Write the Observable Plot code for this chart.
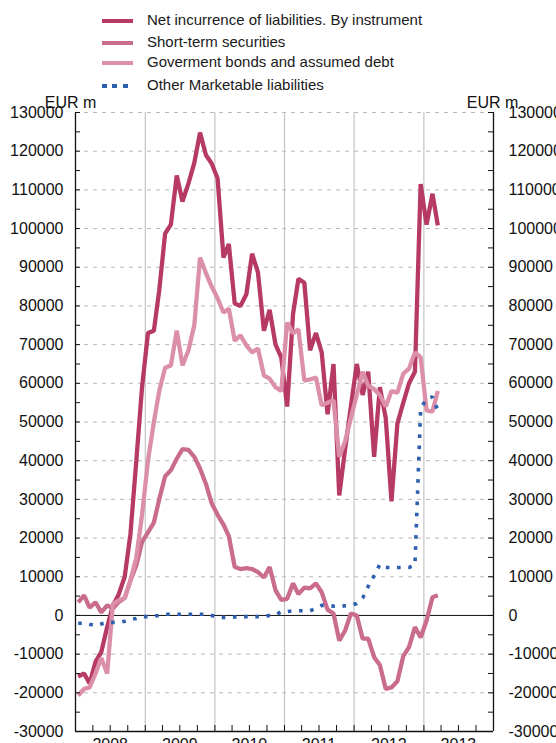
<!DOCTYPE html>
<html><head><meta charset="utf-8">
<script src="https://cdn.jsdelivr.net/npm/d3@7"></script>
<script src="https://cdn.jsdelivr.net/npm/@observablehq/plot@0.6"></script>
<style>
body{margin:0;background:#fff;font-family:"Liberation Sans",Arial,sans-serif;}
#legend{position:absolute;left:0;top:0;width:556px;height:96px;z-index:2;}
.sw{position:absolute;left:102px;width:31px;height:0;}
.lab{position:absolute;left:147px;font-size:15px;line-height:20px;color:#1a1a1a;white-space:nowrap;}
#chart{position:absolute;left:0;top:90px;}
</style></head><body>
<div id="legend"></div>
<div id="chart"></div>
<script>
// Series names and colours (legend order)
const seriesNames = [
  "Net incurrence of liabilities. By instrument",
  "Short-term securities",
  "Goverment bonds and assumed debt",
  "Other Marketable liabilities"
];
const seriesColors = ["#b63a65", "#c96c8d", "#dc8fab", "#2c5fad"];

// Monthly observations, Jan 2008 .. Mar 2013 (EUR m)
const startYear = 2008, startMonth = 0;
const netIncurrence = [-15800,-15000,-17600,-12000,-9500,-3000,2500,5500,10000,21000,40000,59000,
  73000,73600,84000,98700,101000,113700,107000,111600,117000,124800,119000,116800,
  113000,92500,96000,80600,80000,83000,93500,88600,73600,79000,70000,66700,
  54000,78000,87000,86000,68500,73000,68000,52000,65000,31000,43000,54000,
  65000,57000,63000,41000,59000,51000,29500,49600,55000,60000,63000,111500,
  101000,109000,100800];
const shortTerm = [3400,5200,2000,3400,800,2600,1800,3500,4500,9000,13000,19000,
  21500,24000,30000,36000,37500,40500,43000,42800,41000,38000,34000,29000,
  26000,23500,20500,12500,12000,12200,12000,11200,9800,12500,6500,4000,
  4300,8300,5500,7200,7000,8300,6000,1500,500,-6500,-3900,500,
  0,-6000,-6000,-10800,-12800,-19000,-18600,-17000,-10500,-8200,-3000,-5700,
  -1300,4700,5200];
const govBonds = [-20700,-19000,-18600,-15000,-11000,-15000,3000,3900,4500,9000,15000,26000,
  40000,50000,58000,64000,64600,73600,64600,68500,75000,92500,88500,85000,
  82000,78300,79300,71000,72400,69800,68000,69000,62000,61200,59000,58000,
  75700,72900,74000,60700,61000,61500,54300,55000,55600,41000,45000,51000,
  57000,63000,59400,58500,57000,54000,58000,57600,62500,63800,68000,66700,
  53000,52700,58000];
const otherMarketable = [-2000,-2000,-2300,-2600,-2200,-1800,-1800,-1800,-1500,-1000,-800,-300,
  -300,-200,0,300,300,300,300,300,300,300,300,0,
  -500,-500,-500,-400,-300,-300,-300,-300,-200,0,100,1000,
  1000,1200,1200,1200,1200,1800,2600,2600,2400,2300,2500,2600,
  3100,4500,7500,10300,13200,12400,12400,12400,12400,12400,13000,53500,
  56000,56500,53000];

// Axis tick values
const yLabelTicks = d3.range(-30000, 130001, 10000);
const yMinorTicks = d3.range(-30000, 130001, 5000);
const gridValues = d3.range(-20000, 130001, 10000).filter(v => v !== 0);
const yearLabels = [2008, 2009, 2010, 2011, 2012, 2013];

const allSeries = [netIncurrence, shortTerm, govBonds, otherMarketable];
const rows = [];
allSeries.forEach((vals, s) => vals.forEach((v, i) => rows.push({
  date: new Date(Date.UTC(startYear, startMonth + i, 15)), value: v, series: seriesNames[s]
})));

const xStart = new Date(Date.UTC(2008, 0, 1)), xEnd = new Date(Date.UTC(2014, 0, 1));
const yearStarts = yearLabels.slice(1).map(y => new Date(Date.UTC(y, 0, 1)));
const midYears = yearLabels.map(y => new Date(Date.UTC(y, 6, 1)));
const quarters = d3.utcMonth.every(3).range(xStart, xEnd).slice(1);

// legend
const legend = document.getElementById("legend");
const swY = [20.5, 42.5, 63, 85.5];
seriesNames.forEach((name, i) => {
  const sw = document.createElement("div");
  sw.className = "sw";
  sw.style.top = (swY[i] - 2) + "px";
  sw.style.height = "4px";
  sw.style.background = i === 3
    ? `repeating-linear-gradient(90deg, ${seriesColors[i]} 0 5px, transparent 5px 10.5px)`
    : seriesColors[i];
  legend.appendChild(sw);
  const lb = document.createElement("div");
  lb.className = "lab";
  lb.style.top = (swY[i] - 11) + "px";
  lb.textContent = name;
  legend.appendChild(lb);
});

const lineMarks = seriesNames.map((name, i) => Plot.line(rows.filter(r => r.series === name), {
  x: "date", y: "value", stroke: seriesColors[i],
  strokeWidth: i === 3 ? 3.6 : 4.3,
  strokeDasharray: i === 3 ? "3.6,7.6" : null,
  strokeLinejoin: "miter", strokeLinecap: "butt"
}));

const chart = Plot.plot({
  width: 556, height: 665,
  marginLeft: 75, marginRight: 63, marginTop: 22, marginBottom: 24,
  style: {fontFamily: "Liberation Sans, Arial, sans-serif", fontSize: "16px", background: "transparent", color: "#111"},
  x: {type: "utc", domain: [xStart, xEnd]},
  y: {domain: [-30000, 130000]},
  marks: [
    Plot.ruleY(gridValues, {stroke: "#b8b8b8", strokeDasharray: "4,5"}),
    Plot.ruleX(yearStarts, {stroke: "#c4c4c4", strokeWidth: 1.2}),
    Plot.ruleY([0], {stroke: "#111"}),
    ...lineMarks,
    Plot.ruleX([xStart, xEnd], {stroke: "#111", strokeWidth: 1.3}),
    Plot.ruleY([-30000], {stroke: "#111", strokeWidth: 1.6}),
    Plot.tickY(yMinorTicks, {y: d => d, insetRight: 413, stroke: "#111"}),
    Plot.tickY(yMinorTicks, {y: d => d, insetLeft: 413, stroke: "#111"}),
    Plot.tickX(quarters, {x: d => d, insetTop: 613, stroke: "#111"}),
    Plot.axisY({anchor: "left", ticks: yLabelTicks, tickSize: 0, tickPadding: 12, tickFormat: d => String(d), label: null}),
    Plot.axisY({anchor: "right", ticks: yLabelTicks, tickSize: 0, tickPadding: 15, tickFormat: d => String(d), label: null}),
    Plot.axisX({ticks: midYears, tickSize: 0, tickPadding: 7, tickFormat: d => String(d.getUTCFullYear()), label: null}),
    Plot.text(["EUR m"], {text: d => d, frameAnchor: "top-left", textAnchor: "middle", lineAnchor: "bottom", dx: -5, dy: -5}),
    Plot.text(["EUR m"], {text: d => d, frameAnchor: "top-right", textAnchor: "middle", lineAnchor: "bottom", dx: -1, dy: -5})
  ]
});
document.getElementById("chart").appendChild(chart);
</script></body></html>
